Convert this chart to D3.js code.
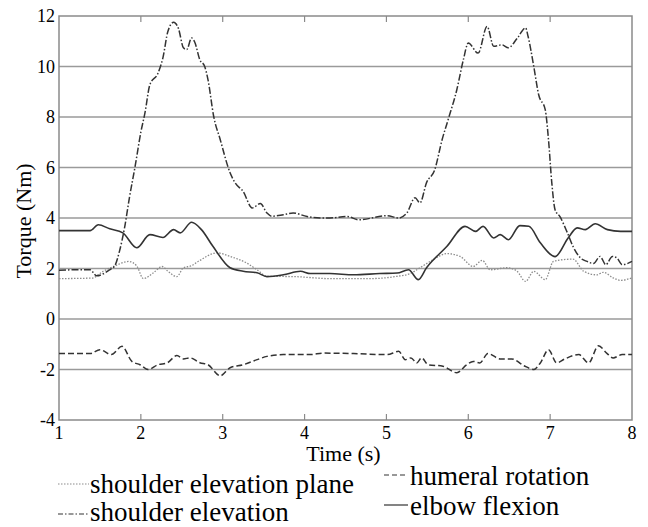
<!DOCTYPE html>
<html>
<head>
<meta charset="utf-8">
<script src="https://cdn.jsdelivr.net/npm/d3@7"></script>
<style>
  body { margin: 0; background: #fff; }
  svg { display: block; }
</style>
</head>
<body>
<svg id="chart" width="648" height="527"></svg>
<script>
// *** data ***
var xTicks = [1, 2, 3, 4, 5, 6, 7, 8];
var yTicks = [-4, -2, 0, 2, 4, 6, 8, 10, 12];

var planeT = [1.0, 1.40, 1.54, 1.68, 1.85, 1.95, 2.03, 2.15, 2.26, 2.33, 2.44, 2.52, 2.61, 2.72, 2.93, 3.09, 3.29, 3.42, 3.54, 3.86, 4.31, 4.80, 5.13, 5.29, 5.41, 5.57, 5.74, 5.90, 6.06, 6.17, 6.27, 6.47, 6.59, 6.70, 6.80, 6.94, 7.04, 7.16, 7.28, 7.41, 7.57, 7.65, 7.77, 7.86, 8.0];
var planeV = [1.6, 1.62, 1.89, 2.1, 2.28, 2.1, 1.6, 1.82, 2.08, 1.89, 1.68, 2.03, 2.1, 2.32, 2.62, 2.48, 2.22, 1.95, 1.69, 1.68, 1.6, 1.6, 1.69, 1.8, 2.03, 2.35, 2.59, 2.48, 2.08, 2.32, 1.95, 2.03, 1.91, 1.49, 1.89, 1.56, 2.28, 2.35, 2.37, 1.89, 1.75, 1.85, 1.63, 1.53, 1.63];

var elevT = [1.0, 1.2, 1.38, 1.46, 1.62, 1.68, 1.74, 1.80, 1.86, 1.93, 2.0, 2.05, 2.11, 2.21, 2.27, 2.33, 2.40, 2.46, 2.52, 2.56, 2.62, 2.66, 2.72, 2.78, 2.82, 2.89, 2.97, 3.09, 3.15, 3.25, 3.36, 3.46, 3.54, 3.60, 3.74, 3.86, 4.03, 4.19, 4.31, 4.52, 4.66, 5.01, 5.15, 5.25, 5.35, 5.41, 5.49, 5.59, 5.68, 5.76, 5.86, 5.94, 6.00, 6.12, 6.23, 6.31, 6.41, 6.49, 6.60, 6.70, 6.73, 6.80, 6.86, 6.94, 6.98, 7.02, 7.06, 7.12, 7.21, 7.28, 7.37, 7.45, 7.53, 7.61, 7.68, 7.76, 7.82, 7.88, 8.0];
var elevV = [1.93, 1.95, 1.95, 1.71, 1.95, 2.1, 2.7, 3.6, 4.8, 6.05, 7.4, 8.16, 9.28, 9.74, 10.35, 11.39, 11.75, 11.5, 10.74, 10.67, 11.13, 10.95, 10.27, 10.0, 9.48, 8.02, 7.1, 5.79, 5.4, 5.05, 4.4, 4.57, 4.2, 4.07, 4.13, 4.2, 4.06, 4.0, 4.0, 4.06, 3.93, 4.09, 4.0, 4.2, 4.8, 4.6, 5.4, 5.91, 7.1, 7.96, 9.08, 10.27, 10.93, 10.53, 11.59, 10.8, 10.86, 10.74, 11.13, 11.53, 11.2, 10.0, 8.88, 8.29, 7.1, 5.4, 4.33, 4.05, 3.42, 2.87, 2.42, 2.28, 2.2, 2.48, 2.15, 2.48, 2.4, 2.15, 2.28];

var humT = [1.0, 1.38, 1.50, 1.64, 1.77, 1.89, 1.99, 2.09, 2.21, 2.32, 2.44, 2.52, 2.60, 2.72, 2.82, 2.97, 3.09, 3.25, 3.42, 3.54, 3.74, 4.07, 4.23, 4.60, 5.01, 5.15, 5.23, 5.30, 5.37, 5.43, 5.51, 5.69, 5.86, 5.98, 6.06, 6.14, 6.24, 6.39, 6.53, 6.68, 6.80, 6.88, 6.98, 7.08, 7.18, 7.35, 7.47, 7.59, 7.69, 7.77, 7.88, 8.0];
var humV = [-1.37, -1.37, -1.22, -1.41, -1.08, -1.68, -1.81, -2.0, -1.81, -1.74, -1.45, -1.58, -1.54, -1.73, -1.81, -2.25, -1.93, -1.81, -1.61, -1.48, -1.41, -1.41, -1.35, -1.37, -1.41, -1.28, -1.61, -1.54, -1.74, -1.54, -1.81, -1.87, -2.13, -1.81, -1.68, -1.74, -1.37, -1.58, -1.58, -1.85, -2.0, -1.74, -1.22, -1.74, -1.58, -1.41, -1.74, -1.06, -1.35, -1.54, -1.41, -1.41];

var elbowT = [1.0, 1.38, 1.48, 1.62, 1.78, 1.95, 2.11, 2.27, 2.40, 2.48, 2.62, 2.74, 2.88, 3.09, 3.25, 3.42, 3.54, 3.74, 3.95, 4.07, 4.31, 4.60, 4.92, 5.13, 5.27, 5.39, 5.49, 5.74, 5.96, 6.09, 6.18, 6.31, 6.39, 6.49, 6.63, 6.74, 6.88, 7.06, 7.22, 7.33, 7.43, 7.55, 7.70, 7.86, 8.0];
var elbowV = [3.5, 3.5, 3.73, 3.57, 3.41, 2.82, 3.34, 3.23, 3.54, 3.41, 3.83, 3.54, 2.88, 2.03, 1.89, 1.83, 1.68, 1.75, 1.89, 1.8, 1.8, 1.75, 1.8, 1.82, 1.95, 1.56, 2.03, 2.88, 3.67, 3.47, 3.67, 3.21, 3.34, 3.14, 3.7, 3.67, 3.02, 2.47, 3.21, 3.61, 3.54, 3.77, 3.54, 3.47, 3.47];

var seriesNames = ["shoulder elevation plane", "shoulder elevation", "humeral rotation", "elbow flexion"];

// *** layout ***
var svg = d3.select("#chart");
var margin = { left: 59, top: 16 }, plotW = 573, plotH = 404;
var serif = "'Liberation Serif'";

var x = d3.scaleLinear().domain([1, 8]).range([0, plotW]);
var y = d3.scaleLinear().domain([-4, 12]).range([plotH, 0]);

var g = svg.append("g").attr("transform", "translate(" + margin.left + "," + margin.top + ")");

// horizontal grid
g.selectAll("line.grid")
    .data(yTicks.slice(1, -1))
    .enter().append("line")
    .attr("class", "grid")
    .attr("x1", 0).attr("x2", plotW)
    .attr("y1", function (d) { return y(d); })
    .attr("y2", function (d) { return y(d); })
    .attr("stroke", "#9a9a9a")
    .attr("stroke-width", 1.5);

// frame
g.append("rect")
    .attr("width", plotW).attr("height", plotH)
    .attr("fill", "none").attr("stroke", "#8a8a8a").attr("stroke-width", 1.5);

// inner x ticks, top and bottom
var inner = xTicks.slice(1, -1);
g.selectAll("line.tb").data(inner).enter().append("line")
    .attr("x1", function (d) { return x(d); }).attr("x2", function (d) { return x(d); })
    .attr("y1", plotH).attr("y2", plotH - 6)
    .attr("stroke", "#8a8a8a").attr("stroke-width", 1.2);
g.selectAll("line.tt").data(inner).enter().append("line")
    .attr("x1", function (d) { return x(d); }).attr("x2", function (d) { return x(d); })
    .attr("y1", 0).attr("y2", 6)
    .attr("stroke", "#8a8a8a").attr("stroke-width", 1.2);

// tick labels
g.selectAll("text.xt").data(xTicks).enter().append("text")
    .attr("x", function (d) { return x(d); })
    .attr("y", plotH + 19)
    .attr("text-anchor", "middle")
    .style("font-family", serif)
    .attr("font-size", 18)
    .text(function (d) { return d; });

g.selectAll("text.yt").data(yTicks).enter().append("text")
    .attr("x", -4)
    .attr("y", function (d) { return y(d) + 6; })
    .attr("text-anchor", "end")
    .style("font-family", serif)
    .attr("font-size", 18)
    .text(function (d) { return d; });

// axis titles
g.append("text")
    .attr("x", plotW / 2 - 2).attr("y", plotH + 41)
    .attr("text-anchor", "middle").attr("font-size", 22)
    .style("font-family", serif)
    .text("Time (s)");

g.append("text")
    .attr("transform", "translate(-28," + (plotH / 2 + 3) + ") rotate(-90)")
    .attr("text-anchor", "middle").attr("font-size", 22)
    .style("font-family", serif)
    .text("Torque (Nm)");

// *** lines ***
var line = d3.line()
    .x(function (d) { return x(d[0]); })
    .y(function (d) { return y(d[1]); })
    .curve(d3.curveMonotoneX);

function pairs(t, v) { return t.map(function (d, i) { return [d, v[i]]; }); }

var styles = [
    { color: "#8c8c8c", dash: "1.5,1.5", width: 1.3 },
    { color: "#333", dash: "7,2,1.5,2", width: 1.5 },
    { color: "#333", dash: "6,3", width: 1.5 },
    { color: "#333", dash: null, width: 1.6 }
];
var seriesData = [pairs(planeT, planeV), pairs(elevT, elevV), pairs(humT, humV), pairs(elbowT, elbowV)];

g.selectAll("path.series")
    .data(seriesData)
    .enter().append("path")
    .attr("class", "series")
    .attr("d", line)
    .attr("fill", "none")
    .attr("stroke", function (d, i) { return styles[i].color; })
    .attr("stroke-width", function (d, i) { return styles[i].width; })
    .attr("stroke-dasharray", function (d, i) { return styles[i].dash; });

// *** legend ***
var legendPos = [
    { lx: 58, lw: 31, ly: 484, tx: 90, ty: 493 },
    { lx: 58, lw: 31, ly: 514, tx: 90, ty: 521 },
    { lx: 384, lw: 24, ly: 475, tx: 410, ty: 485 },
    { lx: 384, lw: 24, ly: 505, tx: 410, ty: 515 }
];
var leg = svg.selectAll("g.leg").data(seriesNames).enter().append("g").attr("class", "leg");
leg.append("line")
    .attr("x1", function (d, i) { return legendPos[i].lx; })
    .attr("x2", function (d, i) { return legendPos[i].lx + legendPos[i].lw; })
    .attr("y1", function (d, i) { return legendPos[i].ly; })
    .attr("y2", function (d, i) { return legendPos[i].ly; })
    .attr("stroke", function (d, i) { return styles[i].color; })
    .attr("stroke-width", 1.2)
    .attr("stroke-dasharray", function (d, i) { return i == 1 ? "5,2,1.5,2" : (i == 2 ? "5,3" : styles[i].dash); });
leg.append("text")
    .attr("x", function (d, i) { return legendPos[i].tx; })
    .attr("y", function (d, i) { return legendPos[i].ty; })
    .style("font-family", serif)
    .attr("font-size", 27)
    .text(function (d) { return d; });
</script>
</body>
</html>
